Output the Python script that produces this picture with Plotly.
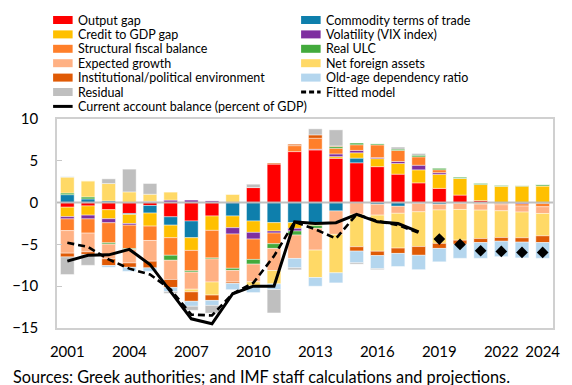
import plotly.graph_objects as go

# ---------------------------------------------------------------- data
years = list(range(2001, 2025))
hist_years = list(range(2001, 2019))
proj_years = list(range(2019, 2025))

output_gap = [-0.55, -0.4, -0.85, -1.3, -0.35, -1.7, -2.2, -1.6, 0.0, 1.8, 4.6, 6.1,
              6.3, 5.3, 4.76, 4.3, 3.4, 2.36, 1.7, 0.9, 0.24, 0.0, 0.0, 0.0]
commodity_tot = [0.95, 0.44, 0.2, -0.12, -0.9, -1.0, -2.0, 0.0, -1.6, -2.2, -2.4, -2.4,
                 -2.6, -1.0, 0.56, -0.2, -0.44, -0.1, -0.2, -0.1, -0.1, -0.1, -0.05, -0.1]
credit_gap = [-1.13, -1.1, -1.08, -1.08, -1.56, -1.5, -1.52, -1.72, -1.4, -1.36, -1.0, -0.68,
              -0.16, 0.2, 0.64, 0.96, 1.28, 1.56, 1.68, 2.0, 1.92, 1.96, 1.96, 2.0]
vix = [-0.27, -0.45, -0.48, -0.2, 0.16, 0.3, 0.3, 0.2, -0.76, -0.8, -0.24, -0.32,
       0.08, 0.32, 0.28, 0.12, 0.24, 0.55, 0.2, 0.0, 0.0, 0.0, -0.12, 0.0]
fiscal_balance = [-1.4, -1.7, -2.4, -2.8, -1.72, -2.1, -2.44, -3.3, -4.1, -2.44, -1.28, 0.72,
                  1.32, 0.68, 0.68, 1.52, 1.32, 1.0, 0.35, 0.0, -0.08, -0.16, -0.24, -0.4]
real_ulc = [0.2, 0.24, -0.16, -0.12, 0.0, -0.6, -0.16, -0.12, -0.25, -0.56, -0.56, -0.48,
            -0.32, 0.2, 0.2, 0.12, 0.16, 0.2, 0.2, 0.16, 0.16, 0.12, 0.08, 0.16]
expected_growth = [-2.7, -2.25, -1.76, -1.6, -2.48, -2.3, -2.04, -2.76, -1.4, -2.12, -2.64, -2.8,
                   -2.6, -2.8, -1.4, -1.3, -0.84, -1.0, -0.68, -0.72, -0.72, -0.72, -0.72, -0.8]
net_foreign_assets = [1.9, 1.92, 2.08, 1.28, 0.84, 0.95, -0.32, -1.56, 1.0, -0.48, -1.6, 0.0,
                      -3.28, -4.6, -3.88, -4.32, -4.16, -4.16, -4.0, -3.68, -3.4, -3.2, -3.08, -2.68]
institutional = [-0.45, -0.3, -0.8, -0.52, -0.8, -0.95, -1.12, -0.64, -0.15, 0.0, 0.12, 0.16,
                 0.4, 0.08, -0.52, -0.52, -0.64, -1.04, -0.6, -0.48, -0.48, -0.44, -0.52, -0.8]
old_age = [0.05, 0.0, -0.2, -0.48, -0.4, -0.5, -0.6, -0.6, -0.75, -0.8, -0.68, -1.12,
           -1.04, -1.2, -1.4, -1.56, -1.56, -1.72, -1.6, -1.68, -1.88, -1.84, -1.88, -1.88]
residual = [-2.1, -1.3, 0.56, 2.72, 1.28, -0.2, -0.48, -0.92, 0.0, 0.4, -2.8, -0.24,
            0.72, 1.92, -0.16, -0.12, 0.24, 0.2, 0.0, 0.0, 0.0, 0.0, 0.0, 0.0]

ca_balance = [-7.0, -6.3, -6.25, -5.6, -7.4, -10.6, -13.9, -14.5, -10.9, -10.0, -10.0, -2.3,
              -2.5, -2.4, -1.4, -2.3, -2.5, -3.5]
fitted_model = [-4.8, -5.3, -6.8, -7.9, -8.6, -10.4, -13.4, -13.5, -10.9, -9.6, -6.4, -2.3,
                -3.2, -4.3, -1.4, -2.2, -2.7, -3.6]
ca_projection = [-4.36, -5.0, -5.76, -5.84, -5.96, -5.96]

x_ticks = [2001, 2004, 2007, 2010, 2013, 2016, 2019, 2022, 2024]

# ---------------------------------------------------------------- styling
components = [
    ("Output gap", output_gap, "#FF0000"),
    ("Commodity terms of trade", commodity_tot, "#0E7FAC"),
    ("Credit to GDP gap", credit_gap, "#FFC000"),
    ("Volatility (VIX index)", vix, "#7E2FA0"),
    ("Structural fiscal balance", fiscal_balance, "#FF7F2A"),
    ("Real ULC", real_ulc, "#43AA3C"),
    ("Expected growth", expected_growth, "#FFB184"),
    ("Net foreign assets", net_foreign_assets, "#FFD966"),
    ("Institutional/political environment", institutional, "#E05A05"),
    ("Old-age dependency ratio", old_age, "#B4D6EE"),
    ("Residual", residual, "#BFBFBF"),
]

FONT = "Lato"
W, H = 572, 385
L, R, T, B = 50, 14, 119, 57
PW, PH = W - L - R, H - T - B


def px_x(x):
    return (x - L) / PW


def px_y(y):
    return (H - B - y) / PH


fig = go.Figure()
for name, vals, color in components:
    fig.add_trace(go.Bar(
        x=years, y=vals, name=name, marker_color=color,
        marker_line=dict(width=0.6, color="rgba(255,255,255,0.7)"),
        showlegend=False,
    ))

fig.add_trace(go.Scatter(
    x=hist_years, y=fitted_model, mode="lines", name="Fitted model",
    line=dict(color="black", width=2.6, dash="7px,4px"), showlegend=False,
))
fig.add_trace(go.Scatter(
    x=hist_years, y=ca_balance, mode="lines",
    name="Current account balance (percent of GDP)",
    line=dict(color="black", width=3), showlegend=False,
))
fig.add_trace(go.Scatter(
    x=proj_years, y=ca_projection, mode="markers", name="Projection",
    marker=dict(symbol="diamond", size=9, color="black"), showlegend=False,
))

# ---------------------------------------------------------------- legend (two columns)
shapes = []
annotations = []
left_col = ["Output gap", "Credit to GDP gap", "Structural fiscal balance",
            "Expected growth", "Institutional/political environment", "Residual",
            "Current account balance (percent of GDP)"]
right_col = ["Commodity terms of trade", "Volatility (VIX index)", "Real ULC",
             "Net foreign assets", "Old-age dependency ratio", "Fitted model"]
color_of = {n: c for n, _, c in components}
row_y0, row_step = 20.0, 14.4

for col, (sx, tx) in zip([left_col, right_col], [(46, 69), (300, 323)]):
    for i, name in enumerate(col):
        yc = row_y0 + i * row_step
        if name in color_of:
            shapes.append(dict(type="rect", xref="paper", yref="paper",
                               x0=px_x(sx), x1=px_x(sx + 20),
                               y0=px_y(yc + 4), y1=px_y(yc - 4),
                               fillcolor=color_of[name], line=dict(width=0)))
        elif name == "Fitted model":
            shapes.append(dict(type="line", xref="paper", yref="paper",
                               x0=px_x(sx), x1=px_x(sx + 20), y0=px_y(yc), y1=px_y(yc),
                               line=dict(color="black", width=3, dash="5px,3px")))
        else:
            shapes.append(dict(type="line", xref="paper", yref="paper",
                               x0=px_x(sx), x1=px_x(sx + 20), y0=px_y(yc), y1=px_y(yc),
                               line=dict(color="black", width=3)))
        annotations.append(dict(text=name, xref="paper", yref="paper",
                                x=px_x(tx), y=px_y(yc), xanchor="left", yanchor="middle",
                                showarrow=False, font=dict(family=FONT, size=12.5, color="#000")))

# zero line drawn over the bars
shapes.append(dict(type="line", xref="paper", yref="y", x0=0, x1=1, y0=0, y1=0,
                   layer="above", line=dict(color="rgba(185,185,185,0.9)", width=2)))

annotations.append(dict(
    text="Sources: Greek authorities; and IMF staff calculations and projections.",
    xref="paper", yref="paper", x=px_x(3), y=px_y(376), xanchor="left", yanchor="middle",
    showarrow=False, font=dict(family=FONT, size=16.3, color="#000"),
))

fig.update_layout(
    width=W, height=H, margin=dict(l=L, r=R, t=T, b=B),
    barmode="relative", bargap=0.34,
    plot_bgcolor="white", paper_bgcolor="white",
    font=dict(family=FONT, size=15, color="#000"),
    shapes=shapes, annotations=annotations, showlegend=False,
)
fig.update_xaxes(range=[2000.5, 2024.5], tickvals=x_ticks, ticks="", showgrid=False,
                 zeroline=False, showline=True, mirror=True, linecolor="#D0D0D0",
                 linewidth=1.5, tickfont=dict(size=15), ticklabelstandoff=9)
fig.update_yaxes(range=[-15, 10], dtick=5, ticks="inside", ticklen=5, tickcolor="#C8C8C8",
                 showgrid=False, zeroline=False, showline=True, mirror=True,
                 linecolor="#D0D0D0", linewidth=1.5, tickfont=dict(size=15),
                 ticklabelstandoff=14)

fig.write_html("out.html")
